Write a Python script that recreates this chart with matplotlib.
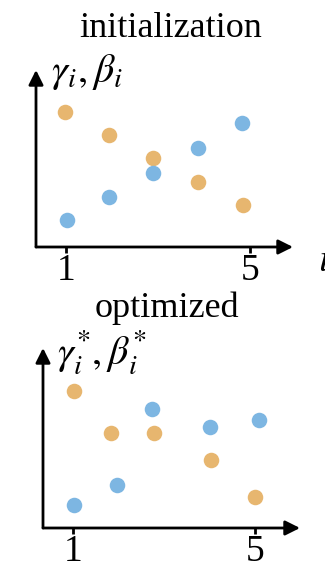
import matplotlib.pyplot as plt

plt.rcParams['font.family'] = ['Liberation Serif', 'DejaVu Serif']
plt.rcParams['mathtext.fontset'] = 'stix'

# data (y in axis units 0..1)
tick_pos = [1, 5]
tick_labels = ['1', '5']

init_gamma = [0.15, 0.28, 0.42, 0.56, 0.70]
init_gamma_x = [1.02, 1.93, 2.9, 3.87, 4.83]
init_beta = [0.76, 0.63, 0.50, 0.37, 0.24]
init_beta_x = [0.98, 1.93, 2.9, 3.87, 4.85]

opt_gamma = [0.13, 0.24, 0.66, 0.56, 0.60]
opt_gamma_x = [1.02, 1.97, 2.74, 4.01, 5.09]
opt_beta = [0.76, 0.53, 0.53, 0.38, 0.17]
opt_beta_x = [1.02, 1.84, 2.78, 4.03, 5.0]

blue = '#7db6e2'
orange = '#e7b66f'

W, H = 325, 562
fig = plt.figure(figsize=(W / 100, H / 100), dpi=100)


def px(x, y):
    return x / W, 1 - y / H


def panel(left, bottom, right, top, xlim, gx, g, bx, b):
    ax = fig.add_axes([left / W, 1 - bottom / H, (right - left) / W, (bottom - top) / H])
    ax.set_xlim(*xlim)
    ax.set_ylim(0, 1)
    for s in ax.spines.values():
        s.set_visible(False)
    ax.set_yticks([])
    ax.set_xticks(tick_pos)
    ax.set_xticklabels(tick_labels, fontsize=27)
    ax.tick_params(axis='x', length=4, width=2, pad=1)
    arrow = dict(arrowstyle='-|>', lw=2, color='black', mutation_scale=22,
                 shrinkA=0, shrinkB=0)
    ax.annotate('', xy=(1, 0), xytext=(0, 0), xycoords='axes fraction', arrowprops=arrow)
    ax.annotate('', xy=(0, 1), xytext=(0, 0), xycoords='axes fraction', arrowprops=arrow)
    ax.scatter(bx, b, s=125, color=orange, zorder=3, linewidths=0)
    ax.scatter(gx, g, s=125, color=blue, zorder=3, linewidths=0)
    return ax


panel(36, 247, 293, 70, (0.348, 5.935), init_gamma_x, init_gamma, init_beta_x, init_beta)
panel(43, 528, 300, 348, (0.341, 5.989), opt_gamma_x, opt_gamma, opt_beta_x, opt_beta)

fig.text(*px(171, 37), 'initialization', fontsize=26, ha='center', va='baseline')
fig.text(*px(167, 317), 'optimized', fontsize=26, ha='center', va='baseline')
fig.text(*px(51, 82), r'$\gamma_i, \beta_i$', fontsize=29, ha='left', va='baseline')
fig.text(*px(57, 364), r'$\gamma_i^{*}, \beta_i^{*}$', fontsize=29, ha='left', va='baseline')
fig.text(*px(318, 271), r'$i$', fontsize=29, ha='left', va='baseline')

fig.savefig('out.png', dpi=100)
